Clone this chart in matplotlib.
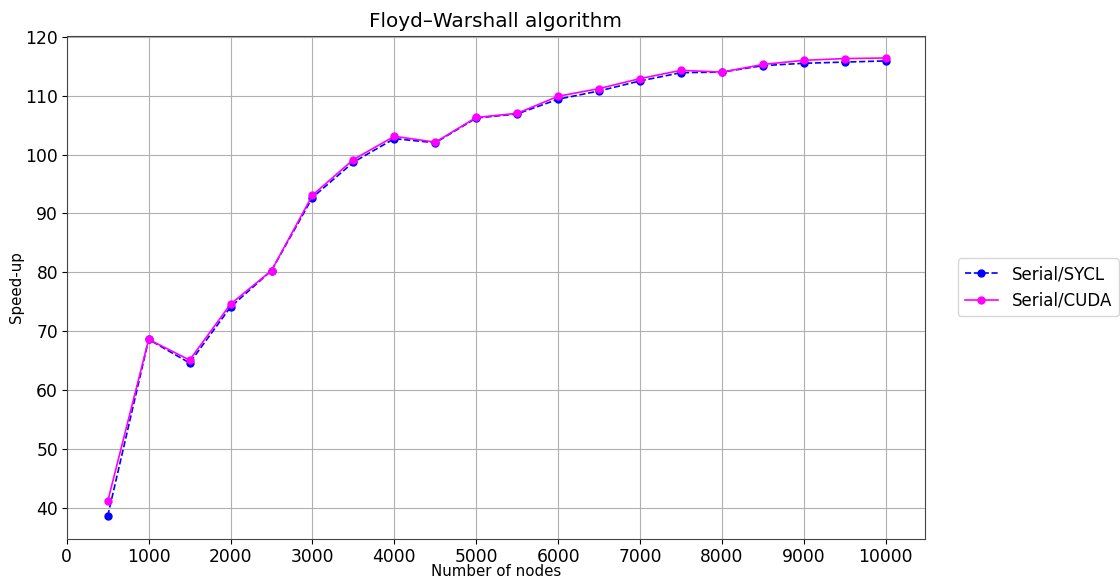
import matplotlib
matplotlib.use("Agg")
import matplotlib.pyplot as plt

nodes = [500, 1000, 1500, 2000, 2500, 3000, 3500, 4000, 4500, 5000,
         5500, 6000, 6500, 7000, 7500, 8000, 8500, 9000, 9500, 10000]
sycl = [38.6, 68.6, 64.6, 74.1, 80.3, 92.7, 98.7, 102.7, 102.0, 106.2,
        106.9, 109.4, 110.8, 112.5, 113.9, 114.0, 115.1, 115.5, 115.7, 115.9]
cuda = [41.1, 68.6, 65.1, 74.6, 80.3, 93.1, 99.15, 103.1, 102.1, 106.3,
        107.0, 109.9, 111.2, 112.9, 114.3, 114.0, 115.3, 116.0, 116.3, 116.4]

fig = plt.figure(figsize=(11.2, 5.76), dpi=100)
ax = fig.add_axes([0.0596, 0.0642, 0.766, 0.874])
ax.plot(nodes, sycl, linestyle="--", color="blue", marker="o", markersize=5,
        linewidth=1.2, label="Serial/SYCL")
ax.plot(nodes, cuda, linestyle="-", color="magenta", marker="o", markersize=5,
        linewidth=1.2, label="Serial/CUDA")
ax.set_xlim(0, 10475)
ax.set_ylim(34.7, 120.2)
ax.set_xticks(range(0, 10001, 1000))
ax.set_yticks(range(40, 121, 10))
ax.tick_params(labelsize=12.3, length=3.8, pad=2.5)
ax.grid(True, color="#b0b0b0", linewidth=0.8)
for s in ax.spines.values():
    s.set_color("#444444")
ax.set_title("Floyd–Warshall algorithm", fontsize=14.4)
ax.set_xlabel("Number of nodes", fontsize=10.8, labelpad=-1)
ax.set_ylabel("Speed-up", fontsize=10.8, labelpad=1)
ax.legend(loc="center left", bbox_to_anchor=(1.039, 0.5), fontsize=12,
          borderaxespad=0)
fig.savefig("out.png", dpi=100)
